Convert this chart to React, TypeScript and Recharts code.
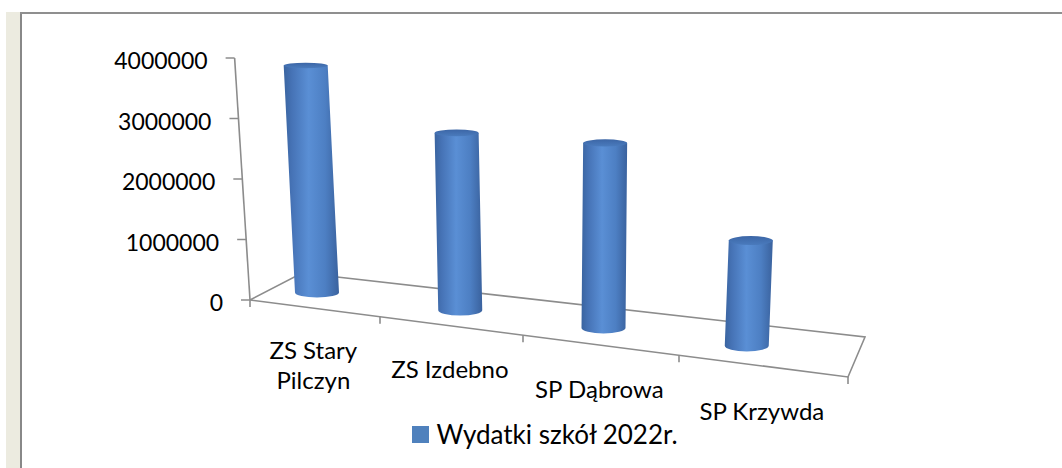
import { Bar, BarChart, Legend, XAxis, YAxis } from "recharts";

const categories = ["ZS Stary\nPilczyn", "ZS Izdebno", "SP Dąbrowa", "SP Krzywda"];
const expenses = [3750000, 2930000, 3060000, 1740000];
const yTicks = [0, 1000000, 2000000, 3000000, 4000000];
const seriesName = "Wydatki szkół 2022r.";

const data = categories.map((name, i) => ({ name, value: expenses[i] }));

const FONT = "Lato, 'Open Sans', sans-serif";
const BLUE = "#4F81BD";
const GRID = "#8c8c8c";

// plot box (margins below are derived from these)
const PLOT_LEFT = 245;
const PLOT_W = 573;

// fake perspective: the floor drops to the right, tall things lean away from VANISH_X
const ZERO_Y = 300;
const AXIS_X = 250;
const VANISH_X = 560;
const LEAN_K = 0.000205;
const FLOOR_X0 = 322;
const FLOOR_Y0 = 293;
const FLOOR_SLOPE = 0.1244;

const lean = (x: number, h: number) => (x - VANISH_X) * h * LEAN_K;
// position along the front edge of the floor, u in 0..1
const frontX = (u: number) => AXIS_X + 494 * u + 104 * u * u;
const frontY = (x: number) => ZERO_Y + (x - AXIS_X) * 0.1288;

function Cylinder(props: any) {
  const { x, y, width, height } = props;
  if (!height || height <= 0) return null;
  const cx = x + width / 2;
  const drop = FLOOR_Y0 + (cx - FLOOR_X0) * FLOOR_SLOPE - ZERO_Y;
  const yT = y + drop;
  const yB = y + height + drop;
  const cxT = cx + lean(cx, height);
  const rx = width / 2;
  const ryT = 2.1 + yT * 0.01;
  const ryB = 2.1 + yB * 0.01;
  const body = `M${cxT - rx},${yT} L${cx - rx},${yB} A${rx},${ryB} 0 0 0 ${cx + rx},${yB} L${cxT + rx},${yT} Z`;
  return (
    <g>
      <path d={body} fill="url(#cylBody)" />
      <ellipse cx={cxT} cy={yT} rx={rx} ry={ryT} fill="url(#cylTop)" />
    </g>
  );
}

function ValueTick(props: any) {
  const { y, payload } = props;
  const h = ZERO_Y - y;
  const ax = AXIS_X + lean(AXIS_X, h);
  return (
    <g>
      <line x1={ax - 9} y1={y} x2={ax} y2={y} stroke={GRID} strokeWidth={1.5} />
      <text x={ax - 27} y={y + 2} textAnchor="end" dominantBaseline="central" fontFamily={FONT} fontSize={23} fill="#000">
        {payload.value}
      </text>
    </g>
  );
}

function CategoryTick(props: any) {
  const { x, payload } = props;
  const lines = String(payload.value).split("\n");
  const px = frontX((x - PLOT_LEFT) / PLOT_W);
  const y0 = 350 + (px - 315) * 0.136;
  return (
    <text x={px} y={y0} textAnchor="middle" fontFamily={FONT} fontSize={24} fill="#000">
      {lines.map((l, i) => (
        <tspan key={i} x={px} y={y0 + i * 30} dominantBaseline="central">
          {l}
        </tspan>
      ))}
    </text>
  );
}

function LegendBox() {
  return (
    <div style={{ display: "flex", alignItems: "center", justifyContent: "center", fontFamily: FONT, fontSize: 26, color: "#000" }}>
      <span style={{ display: "inline-block", width: 17, height: 17, background: BLUE, marginRight: 7, marginLeft: 8 }} />
      <span>{seriesName}</span>
    </div>
  );
}

function Floor() {
  const fx = [0, 0.25, 0.5, 0.75, 1].map(frontX);
  return (
    <svg width={1062} height={468} style={{ position: "absolute", left: 0, top: 0 }}>
      <g stroke={GRID} strokeWidth={1.6} fill="none">
        <polyline points={`${AXIS_X},${ZERO_Y} 848,377 865,337 302,273 ${AXIS_X},${ZERO_Y}`} />
        <line x1={AXIS_X} y1={ZERO_Y} x2={AXIS_X + lean(AXIS_X, 242)} y2={ZERO_Y - 242} />
        {fx.map((x, i) => (
          <line key={i} x1={x} y1={frontY(x)} x2={x} y2={frontY(x) + 7} />
        ))}
      </g>
    </svg>
  );
}

export default function App() {
  return (
    <div style={{ position: "absolute", left: 0, top: 0, width: 1062, height: 468, background: "#fff", overflow: "hidden" }}>
      <div style={{ position: "absolute", left: 6, top: 12, width: 14, height: 456, background: "#ECEBE0" }} />
      <div style={{ position: "absolute", left: 20, top: 12, width: 2, height: 456, background: "#888" }} />
      <div style={{ position: "absolute", left: 20, top: 12, width: 1042, height: 2, background: "#8f8f8f" }} />
      <Floor />
      <div style={{ position: "absolute", left: 0, top: 0 }}>
        <BarChart
          width={1062}
          height={468}
          data={data}
          margin={{ top: 58, right: 1062 - PLOT_LEFT - PLOT_W, bottom: 68, left: PLOT_LEFT - 60 }}
        >
          <defs>
            <linearGradient id="cylBody" x1="0" y1="0" x2="1" y2="0">
              <stop offset="0%" stopColor="#3a64a0" />
              <stop offset="15%" stopColor="#4673b6" />
              <stop offset="45%" stopColor="#5a8fd5" />
              <stop offset="75%" stopColor="#4d7fc3" />
              <stop offset="100%" stopColor="#3a629e" />
            </linearGradient>
            <linearGradient id="cylTop" x1="0" y1="0" x2="0" y2="1">
              <stop offset="0%" stopColor="#3c66a6" />
              <stop offset="100%" stopColor="#4a7bbd" />
            </linearGradient>
          </defs>
          <XAxis dataKey="name" height={100} interval={0} axisLine={false} tickLine={false} tick={<CategoryTick />} />
          <YAxis
            width={60}
            domain={[0, 4000000]}
            ticks={yTicks}
            interval={0}
            axisLine={false}
            tickLine={false}
            tick={<ValueTick />}
          />
          <Legend verticalAlign="middle" wrapperStyle={{ top: 418, left: 20, width: 1042 }} content={<LegendBox />} />
          <Bar dataKey="value" name={seriesName} fill={BLUE} barSize={44} shape={Cylinder} isAnimationActive={false} />
        </BarChart>
      </div>
    </div>
  );
}
